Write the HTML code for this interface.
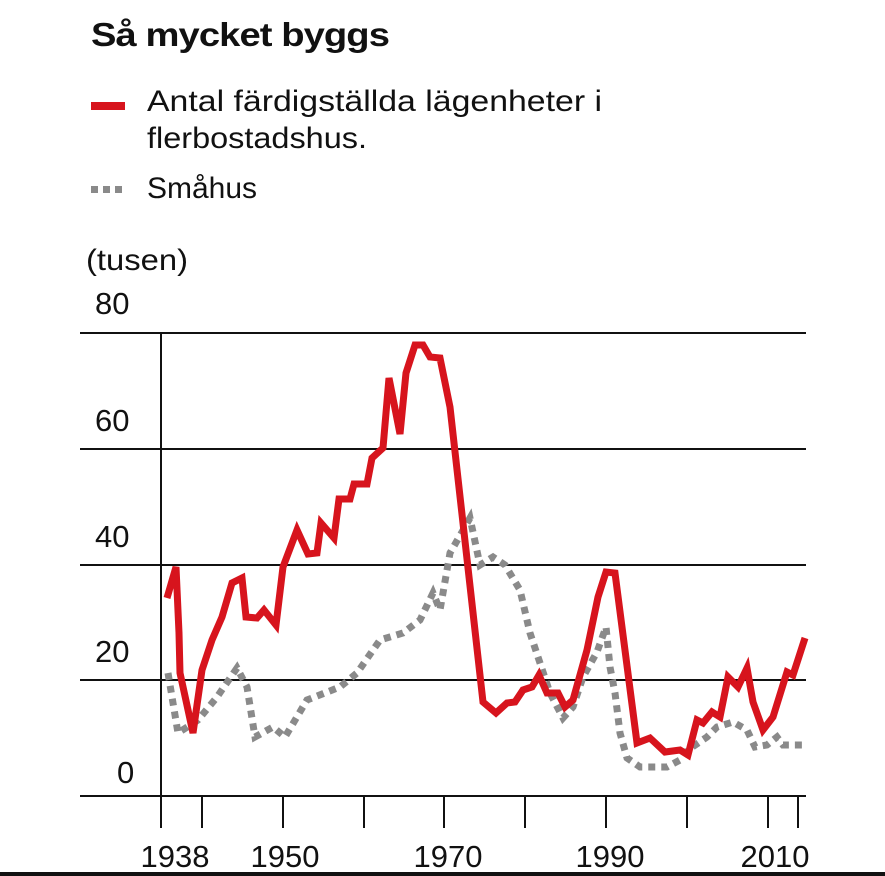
<!DOCTYPE html>
<html><head><meta charset="utf-8"><style>
body{margin:0;background:#fff;}
svg{display:block;font-family:"Liberation Sans",sans-serif;}
</style></head><body>
<svg width="885" height="876" viewBox="0 0 885 876">
<rect width="885" height="876" fill="#fff"/>
<text x="91" y="46" font-size="33" font-weight="bold" fill="#111" letter-spacing="-0.8" textLength="298" lengthAdjust="spacingAndGlyphs">Så mycket byggs</text>
<rect x="91" y="102" width="34" height="8" fill="#d7141d"/>
<text x="147" y="111" font-size="30" fill="#111" textLength="455" lengthAdjust="spacingAndGlyphs">Antal färdigställda lägenheter i</text>
<text x="147" y="148" font-size="30" fill="#111" textLength="220" lengthAdjust="spacingAndGlyphs">flerbostadshus.</text>
<g fill="#8a8a8a"><rect x="91" y="186" width="7" height="7"/><rect x="103" y="186" width="7" height="7"/><rect x="115" y="186" width="7" height="7"/></g>
<text x="147" y="198" font-size="30" fill="#111" textLength="110" lengthAdjust="spacingAndGlyphs">Småhus</text>
<text x="86" y="270" font-size="30" fill="#111" textLength="102" lengthAdjust="spacingAndGlyphs">(tusen)</text>
<g font-size="31" fill="#111">
<text x="95" y="314">80</text>
<text x="95" y="431">60</text>
<text x="95" y="547">40</text>
<text x="95" y="662">20</text>
<text x="117" y="783">0</text>
</g>
<g stroke="#111" stroke-width="2">
<line x1="80" y1="333" x2="806" y2="333"/>
<line x1="80" y1="449" x2="806" y2="449"/>
<line x1="80" y1="565" x2="806" y2="565"/>
<line x1="80" y1="680" x2="806" y2="680"/>
<line x1="80" y1="796" x2="806" y2="796"/>
<line x1="161" y1="333" x2="161" y2="828"/>
<line x1="202" y1="796" x2="202" y2="828"/>
<line x1="283" y1="796" x2="283" y2="828"/>
<line x1="364" y1="796" x2="364" y2="828"/>
<line x1="444" y1="796" x2="444" y2="828"/>
<line x1="525" y1="796" x2="525" y2="828"/>
<line x1="606" y1="796" x2="606" y2="828"/>
<line x1="687" y1="796" x2="687" y2="828"/>
<line x1="768" y1="796" x2="768" y2="828"/>
<line x1="798" y1="796" x2="798" y2="828"/>
</g>
<g font-size="31" fill="#111" text-anchor="middle">
<text x="175" y="867">1938</text>
<text x="285" y="867">1950</text>
<text x="448" y="867">1970</text>
<text x="610" y="867">1990</text>
<text x="775" y="867">2010</text>
</g>
<polyline fill="none" stroke="#8a8a8a" stroke-width="7" stroke-dasharray="7 6" points="168,673 178,733 198,720 217,697 237,668 247,687 255,737 273,727 285,737 307,700 340,687 357,673 380,640 403,633 420,620 433,593 440,610 450,553 470,518 480,565 493,557 505,565 520,590 530,633 540,663 550,693 563,718 573,707 583,677 597,652 606,627 610,667 615,693 620,733 627,758 640,767 667,767 680,760 688,750 707,737 717,727 733,722 747,730 755,747 767,745 777,737 783,745 802,745"/>
<polyline fill="none" stroke="#d7141d" stroke-width="7" stroke-linejoin="miter" points="167,598 176,567 179,633 180,673 193,733 202,670 212,640 222,617 232,583 242,578 246,617 257,618 264,610 276,625 283,567 297,530 308,554 317,553 321,523 334,538 339,499 350,499 354,484 367,484 372,458 383,448 389,378 400,434 406,373 415,345 423,345 430,357 440,358 450,407 483,702 496,713 507,703 515,702 523,690 532,687 539,675 547,693 558,693 565,707 573,700 587,650 598,597 606,572 615,573 637,743 650,738 665,752 680,750 688,755 697,720 703,723 712,712 720,717 728,677 738,687 747,668 753,702 763,730 773,717 787,672 793,675 805,638"/>
<rect x="0" y="872" width="885" height="4" fill="#111"/>
</svg>
</body></html>
